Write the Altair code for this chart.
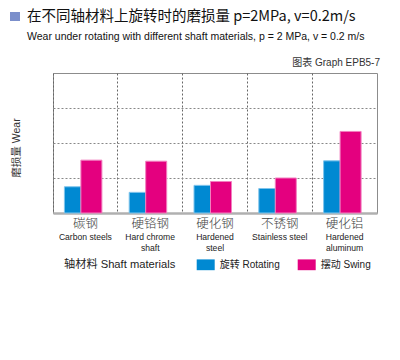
import altair as alt
import pandas as pd

# ---- data ----
categories = ["碳钢", "硬铬钢", "硬化钢", "不锈钢", "硬化铝"]
labels_en = ["Carbon steels", "Hard chrome\nshaft", "Hardened\nsteel", "Stainless steel", "Hardened\naluminum"]
rotating = [0.75, 0.59, 0.79, 0.70, 1.49]
swing = [1.51, 1.48, 0.90, 1.00, 2.33]
series_names = ["旋转 Rotating", "摆动 Swing"]
grid_values = [1, 2, 3]

title_text = "在不同轴材料上旋转时的磨损量  p=2MPa, v=0.2m/s"
subtitle_text = "Wear under rotating with different shaft materials, p = 2 MPa, v = 0.2 m/s"
graph_id = "图表 Graph EPB5-7"
y_title = "磨损量 Wear"
legend_title = "轴材料 Shaft materials"

BLUE = "#0089d2"
PINK = "#e4007f"
CJK = "Noto Sans CJK SC"
LAT = "Liberation Sans, Noto Sans CJK SC"

rows = []
for c, e, r, s in zip(categories, labels_en, rotating, swing):
    rows.append({"cat": c, "en": e, "series": series_names[0], "value": r})
    rows.append({"cat": c, "en": e, "series": series_names[1], "value": s})
df = pd.DataFrame(rows)
lab = pd.DataFrame({"cat": categories, "en": labels_en})

W, H = 324, 140

xscale = alt.Scale(domain=categories, paddingInner=0, paddingOuter=0)
yscale = alt.Scale(domain=[0, 4], nice=False)
cscale = alt.Scale(domain=series_names, range=[BLUE, PINK])

x_enc = alt.X("cat:N", scale=xscale, sort=categories, title=None,
              axis=alt.Axis(labels=False, ticks=False, grid=True, bandPosition=0,
                            gridDash=[2, 2], gridColor="#666", gridWidth=1,
                            domainColor="#b0b0b0", domainWidth=2.5))
y_enc = alt.Y("value:Q", scale=yscale, title=None,
              axis=alt.Axis(labels=False, ticks=False, domain=False, values=grid_values,
                            grid=True, gridDash=[2, 2], gridColor="#888", gridWidth=1))
color_enc = alt.Color("series:N", scale=cscale,
                      legend=alt.Legend(orient="none", legendX=143.7, legendY=182.5,
                                        direction="horizontal", title=None, padding=0,
                                        symbolType="M-1,-0.6H1V0.6H-1Z", symbolSize=324,
                                        symbolStrokeWidth=0, symbolOpacity=1,
                                        labelFont=LAT, labelFontSize=10, labelColor="#222",
                                        labelOffset=5, columnPadding=17))

blue_bars = alt.Chart(df).transform_filter(
    alt.datum.series == series_names[0]
).mark_bar(width=16.6, xOffset=-12.7, stroke="#7fc4ec", strokeWidth=1, opacity=1).encode(
    x=x_enc, y=y_enc, color=color_enc)

pink_bars = alt.Chart(df).transform_filter(
    alt.datum.series == series_names[1]
).mark_bar(width=21, xOffset=6, stroke="#f27fbf", strokeWidth=1, opacity=1).encode(
    x=x_enc, y=y_enc, color=color_enc)

cn_labels = alt.Chart(lab).mark_text(font=CJK, fontSize=12.5, color="#444",
                                     baseline="middle", fontWeight=300).encode(
    x=alt.X("cat:N", scale=xscale, sort=categories), y=alt.value(151), text="cat:N")

en_labels = alt.Chart(lab).mark_text(font=LAT, fontSize=8.6, color="#222",
                                     baseline="alphabetic", lineBreak="\n", lineHeight=11).encode(
    x=alt.X("cat:N", scale=xscale, sort=categories), y=alt.value(167), text="en:N")

one = alt.Data(values=[{}])

square = alt.Chart(one).mark_rect(color="#7b8fcb").encode(
    x=alt.value(-43), x2=alt.value(-33), y=alt.value(-61), y2=alt.value(-52))

title = alt.Chart(one).mark_text(text=title_text, font=CJK, fontSize=14.5, color="#111",
                                 align="left", baseline="middle").encode(
    x=alt.value(-26), y=alt.value(-56))

subtitle = alt.Chart(one).mark_text(text=subtitle_text, font=LAT, fontSize=10.5, color="#111",
                                    align="left", baseline="middle").encode(
    x=alt.value(-26), y=alt.value(-36))

gid = alt.Chart(one).mark_text(text=graph_id, font=LAT, fontSize=10, color="#333",
                               align="right", baseline="middle").encode(
    x=alt.value(327), y=alt.value(-10))

ytitle = alt.Chart(one).mark_text(text=y_title, font=LAT, fontSize=10.5, color="#333",
                                  align="center", baseline="middle", angle=270).encode(
    x=alt.value(-36), y=alt.value(75))

ltitle = alt.Chart(one).mark_text(text=legend_title, font=LAT, fontSize=11.2, color="#222",
                                  align="left", baseline="middle").encode(
    x=alt.value(11), y=alt.value(191.5))

chart = alt.layer(
    blue_bars, pink_bars, cn_labels, en_labels, square, title, subtitle, gid, ytitle, ltitle
).properties(
    width=W, height=H, autosize="none",
    padding={"left": 45, "top": 65, "right": 15, "bottom": 139},
    background="white"
).configure_view(stroke="#8c8c8c", strokeWidth=1)

chart.save("out.html", embed_options={"renderer": "svg", "actions": False})
